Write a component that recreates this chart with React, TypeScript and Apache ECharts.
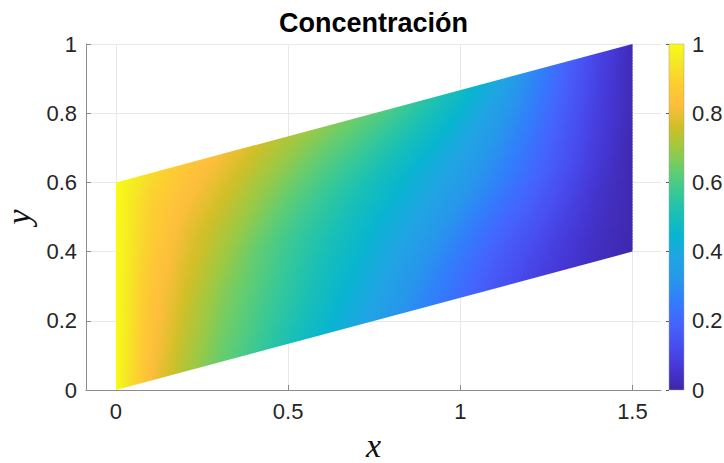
import React, { useEffect, useRef } from "react";
import * as echarts from "echarts";

// ---- texts & ticks ----
const TITLE = "Concentración";
const X_NAME = "x";
const Y_NAME = "y";
const X_TICKS = [0, 0.5, 1, 1.5];
const X_RANGE = [-0.087, 1.583];
const Y_RANGE = [0, 1];
const CBAR_RANGE = [0, 1];

// ---- domain (parallelogram) ----
const DOMAIN_X = [0, 1.5];
const BOTTOM_Y = [0, 0.4];
const TOP_Y = [0.6, 1.0];

// ---- concentration ----
// columns: x positions; rows: height above the bottom edge (eta)
const X_NODES = [0, 0.1, 0.2, 0.3, 0.4, 0.5, 0.6, 0.7, 0.8, 0.9, 1.0, 1.1, 1.2, 1.3, 1.4, 1.5];
const ETA_NODES = [0, 0.1, 0.2, 0.3, 0.4, 0.5, 0.6];
const C_ETA_00 = [1.0, 0.82, 0.72, 0.64, 0.58, 0.51, 0.45, 0.39, 0.33, 0.27, 0.21, 0.15, 0.1, 0.06, 0.03, 0.01];
const C_ETA_01 = [1.0, 0.84, 0.74, 0.66, 0.6, 0.54, 0.48, 0.42, 0.36, 0.3, 0.24, 0.18, 0.13, 0.08, 0.04, 0.01];
const C_ETA_02 = [1.0, 0.85, 0.76, 0.68, 0.62, 0.56, 0.5, 0.45, 0.39, 0.34, 0.28, 0.22, 0.17, 0.11, 0.05, 0.01];
const C_ETA_03 = [1.0, 0.86, 0.78, 0.71, 0.64, 0.58, 0.53, 0.48, 0.43, 0.38, 0.33, 0.27, 0.21, 0.14, 0.07, 0.01];
const C_ETA_04 = [1.0, 0.88, 0.8, 0.74, 0.68, 0.62, 0.57, 0.52, 0.47, 0.42, 0.37, 0.31, 0.24, 0.16, 0.08, 0.02];
const C_ETA_05 = [1.0, 0.89, 0.83, 0.78, 0.72, 0.67, 0.62, 0.58, 0.53, 0.48, 0.42, 0.35, 0.27, 0.18, 0.09, 0.02];
const C_ETA_06 = [1.0, 0.92, 0.86, 0.82, 0.77, 0.72, 0.68, 0.64, 0.6, 0.54, 0.48, 0.4, 0.3, 0.2, 0.1, 0.02];
const C_ROWS = [C_ETA_00, C_ETA_01, C_ETA_02, C_ETA_03, C_ETA_04, C_ETA_05, C_ETA_06];

// ---- parula colormap stops (value, r, g, b) ----
const PARULA: number[][] = [
  [0.0, 62, 38, 168],
  [0.0635, 69, 55, 213],
  [0.127, 72, 77, 240],
  [0.19, 69, 99, 253],
  [0.254, 50, 124, 252],
  [0.317, 39, 150, 235],
  [0.381, 32, 165, 227],
  [0.444, 8, 181, 208],
  [0.508, 25, 191, 182],
  [0.571, 55, 200, 151],
  [0.635, 100, 205, 111],
  [0.698, 157, 201, 67],
  [0.762, 209, 191, 39],
  [0.825, 254, 190, 60],
  [0.889, 252, 207, 48],
  [0.952, 245, 233, 36],
  [1.0, 249, 251, 21],
];

function parula(v: number): string {
  const t = Math.max(0, Math.min(1, (v - CBAR_RANGE[0]) / (CBAR_RANGE[1] - CBAR_RANGE[0])));
  let k = 0;
  while (k < PARULA.length - 2 && t > PARULA[k + 1][0]) k++;
  const a = PARULA[k];
  const b = PARULA[k + 1];
  const f = (t - a[0]) / (b[0] - a[0]);
  const c = [1, 2, 3].map((i) => Math.round(a[i] + (b[i] - a[i]) * f));
  return `rgb(${c[0]},${c[1]},${c[2]})`;
}

function locate(nodes: number[], v: number): [number, number] {
  let i = 0;
  while (i < nodes.length - 2 && v > nodes[i + 1]) i++;
  const t = (v - nodes[i]) / (nodes[i + 1] - nodes[i]);
  return [i, Math.max(0, Math.min(1, t))];
}

function fieldAt(x: number, eta: number): number {
  const [i, tx] = locate(X_NODES, x);
  const [j, ty] = locate(ETA_NODES, eta);
  const r0 = C_ROWS[j];
  const r1 = C_ROWS[j + 1];
  const a = r0[i] * (1 - tx) + r0[i + 1] * tx;
  const b = r1[i] * (1 - tx) + r1[i + 1] * tx;
  return a * (1 - ty) + b * ty;
}

const slope = (BOTTOM_Y[1] - BOTTOM_Y[0]) / (DOMAIN_X[1] - DOMAIN_X[0]);
const bottomAt = (x: number) => BOTTOM_Y[0] + slope * (x - DOMAIN_X[0]);
const ETA_MAX = TOP_Y[0] - BOTTOM_Y[0];

const FONT = "'Liberation Sans', Arial, Helvetica, sans-serif";
const SERIF = "'Liberation Serif', 'Times New Roman', serif";
const LABEL_COLOR = "#262626";
const AXIS_COLOR = "#8c8c8c";
const GRID_COLOR = "#e8e8e8";

export default function App() {
  const ref = useRef<HTMLDivElement>(null);

  useEffect(() => {
    if (!ref.current) return;
    const chart = echarts.init(ref.current, undefined, { renderer: "svg" });

    const bands = ETA_NODES.slice(0, -1).map((e, j) => [e, ETA_NODES[j + 1]]);

    const option: any = {
      animation: false,
      backgroundColor: "#ffffff",
      graphic: [
        {
          type: "text",
          x: 373.5,
          y: 23,
          style: {
            text: TITLE,
            fill: "#000000",
            font: `bold 27px ${FONT}`,
            textAlign: "center",
            textVerticalAlign: "middle",
          },
        },
      ],
      grid: [
        { left: 86, top: 44, width: 575, height: 346, containLabel: false, outerBoundsMode: "none" },
        { left: 669, top: 44, width: 15, height: 346, containLabel: false, outerBoundsMode: "none" },
      ],
      xAxis: [
        {
          type: "value",
          gridIndex: 0,
          min: X_RANGE[0],
          max: X_RANGE[1],
          name: X_NAME,
          nameLocation: "middle",
          nameGap: 42,
          nameTextStyle: {
            fontFamily: SERIF,
            fontStyle: "italic",
            fontSize: 34,
            lineHeight: 26,
            color: "#111111",
          },
          axisLine: { show: true, onZero: false, lineStyle: { color: AXIS_COLOR, width: 1 } },
          axisTick: { show: true, inside: true, length: 5, customValues: X_TICKS, lineStyle: { color: AXIS_COLOR } },
          axisLabel: {
            customValues: X_TICKS,
            margin: 10,
            fontFamily: FONT,
            fontSize: 22,
            color: LABEL_COLOR,
            formatter: (v: number) => String(v),
          },
          splitLine: { show: true, lineStyle: { color: GRID_COLOR, width: 1 } },
        },
        {
          type: "value",
          gridIndex: 1,
          min: 0,
          max: 1,
          show: false,
        },
      ],
      yAxis: [
        {
          type: "value",
          gridIndex: 0,
          min: Y_RANGE[0],
          max: Y_RANGE[1],
          interval: 0.2,
          name: Y_NAME,
          nameLocation: "middle",
          nameGap: 55,
          nameRotate: 90,
          nameTextStyle: {
            fontFamily: SERIF,
            fontStyle: "italic",
            fontSize: 34,
            lineHeight: 26,
            color: "#111111",
          },
          axisLine: { show: true, onZero: false, lineStyle: { color: AXIS_COLOR, width: 1 } },
          axisTick: { show: true, inside: true, length: 5, lineStyle: { color: AXIS_COLOR } },
          axisLabel: { margin: 9, fontFamily: FONT, fontSize: 22, color: LABEL_COLOR },
          splitLine: { show: true, lineStyle: { color: GRID_COLOR, width: 1 } },
        },
        {
          type: "value",
          gridIndex: 1,
          position: "right",
          min: CBAR_RANGE[0],
          max: CBAR_RANGE[1],
          interval: 0.2,
          axisLine: { show: false },
          axisTick: { show: true, inside: true, length: 3, lineStyle: { color: "#555555" } },
          axisLabel: { margin: 8, fontFamily: FONT, fontSize: 22, color: LABEL_COLOR },
          splitLine: { show: false },
        },
      ],
      series: [
        {
          type: "custom",
          name: "Concentración",
          xAxisIndex: 0,
          yAxisIndex: 0,
          silent: true,
          data: bands,
          encode: { x: 0, y: 1 },
          z: 2,
          renderItem: (params: any, api: any) => {
            const e0 = api.value(0);
            const e1 = api.value(1);
            const SUB = 12;
            const NS = 60;
            const x0 = DOMAIN_X[0];
            const x1 = DOMAIN_X[1];
            const children: any[] = [];
            for (let k = 0; k < SUB; k++) {
              const a = e0 + ((e1 - e0) * k) / SUB;
              const b = e0 + ((e1 - e0) * (k + 1)) / SUB;
              const mid = (a + b) / 2;
              const bb = Math.min(b + 0.004, ETA_MAX);
              const pts = [
                [x0, a],
                [x1, a],
                [x1, bb],
                [x0, bb],
              ].map(([x, e]) => api.coord([x, bottomAt(x) + e]));
              const stops: any[] = [];
              for (let s = 0; s <= NS; s++) {
                const x = x0 + ((x1 - x0) * s) / NS;
                stops.push({ offset: s / NS, color: parula(fieldAt(x, mid)) });
              }
              children.push({
                type: "polygon",
                shape: { points: pts },
                style: { fill: new echarts.graphic.LinearGradient(0, 0, 1, 0, stops), stroke: null },
              });
            }
            return { type: "group", children };
          },
        },
        {
          type: "custom",
          name: "colorbar",
          xAxisIndex: 1,
          yAxisIndex: 1,
          silent: true,
          data: [[0, CBAR_RANGE[0], CBAR_RANGE[1]]],
          encode: { x: 0, y: 1 },
          z: 2,
          renderItem: (params: any, api: any) => {
            const lo = api.value(1);
            const hi = api.value(2);
            const p0 = api.coord([0, lo]);
            const p1 = api.coord([1, hi]);
            const stops = PARULA.map((s) => ({
              offset: s[0],
              color: `rgb(${s[1]},${s[2]},${s[3]})`,
            }));
            return {
              type: "rect",
              shape: { x: p0[0], y: p1[1], width: p1[0] - p0[0], height: p0[1] - p1[1] },
              style: {
                fill: new echarts.graphic.LinearGradient(0, 1, 0, 0, stops),
                stroke: "#a0a0a0",
                lineWidth: 0.5,
              },
            };
          },
        },
      ],
    };

    chart.setOption(option);
    return () => {
      chart.dispose();
    };
  }, []);

  return (
    <div
      ref={ref}
      style={{ position: "absolute", left: 0, top: 0, width: 724, height: 463 }}
    />
  );
}
